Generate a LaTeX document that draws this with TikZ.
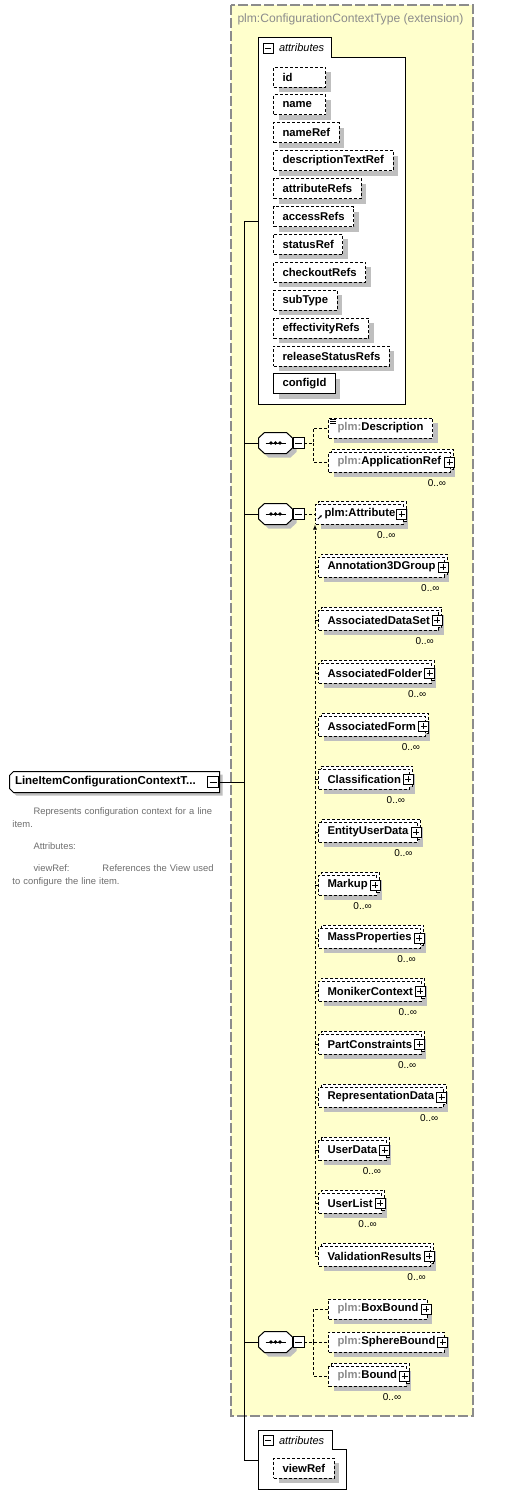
\documentclass[tikz,border=0pt]{standalone}
\usepackage{fontspec}
\setmainfont{Liberation Sans}
\usetikzlibrary{calc,positioning,arrows.meta,shadows}

\definecolor{extfill}{RGB}{255,255,204}
\definecolor{extline}{RGB}{140,140,140}
\definecolor{nsgray}{RGB}{140,140,140}
\definecolor{docgray}{RGB}{110,110,110}

\newcommand{\ns}{\textcolor{nsgray}{plm:}}
% octagon of a sequence compositor drawn round the node #1
\newcommand{\seqshape}[1]{%
\draw[fill=white,general shadow={fill=black!25,draw=none,shadow xshift=4pt,shadow yshift=-4pt}]
($(#1.west)+(0,-5)$) -- ($(#1.north west)+(6,0)$) -- ($(#1.north east)+(-6,0)$) -- ($(#1.east)+(0,-5)$)
-- ($(#1.east)+(0,5)$) -- ($(#1.south east)+(-6,0)$) -- ($(#1.south west)+(6,0)$) -- ($(#1.west)+(0,5)$) -- cycle;
\draw ($(#1.west)+(7,0)$) -- ($(#1.east)+(-7,0)$);
\fill ($(#1.center)+(-4.5,0)$) circle (1.9) (#1.center) circle (1.9) ($(#1.center)+(4.5,0)$) circle (1.9);}

\begin{document}
\begin{tikzpicture}[x=1pt,y=-1pt,line width=1pt]
% Element boxes, dashed when optional.
\tikzstyle{elem}=[draw,dash pattern=on 3pt off 2pt,fill=white,anchor=west,minimum height=20pt,
inner xsep=9pt,inner ysep=0pt,font=\fontsize{11.3}{13}\selectfont\bfseries,
general shadow={fill=black!25,draw=none,shadow xshift=5pt,shadow yshift=-5pt}]
\tikzstyle{multi}=[copy shadow={draw,dash pattern=on 3pt off 2pt,fill=white,shadow xshift=3pt,shadow yshift=3pt}]
\tikzstyle{link}=[dash pattern=on 3pt off 2pt]
\tikzstyle{mult}=[font=\fontsize{10}{12}\selectfont,inner sep=0pt,anchor=north east]
\tikzstyle{plusbox}=[draw,solid,fill=white,minimum size=10pt,inner sep=0pt,line width=0.9pt,
path picture={\draw ($(path picture bounding box.west)+(2,0)$) -- ($(path picture bounding box.east)+(-2,0)$)
($(path picture bounding box.north)+(0,2)$) -- ($(path picture bounding box.south)+(0,-2)$);}]
\tikzstyle{minusbox}=[draw,solid,fill=white,minimum size=11pt,inner sep=0pt,line width=0.9pt,
path picture={\draw ($(path picture bounding box.west)+(2,0)$) -- ($(path picture bounding box.east)+(-2,0)$);}]
\tikzstyle{compositor}=[minimum width=33pt,minimum height=20pt,inner sep=0pt]
\tikzstyle{tab}=[anchor=north west,minimum height=20pt,text width=73pt,inner xsep=0pt,align=left,
font=\fontsize{11}{13}\selectfont\itshape]

\fill[white] (0,0) rectangle (513,1507);
\useasboundingbox (0,0) rectangle (513,1507);

% This draws the extension frame.
\draw[extline,fill=extfill,line width=1.3pt,dash pattern=on 10pt off 3pt] (231,5) rectangle (473,1416);
\node[anchor=west,inner sep=0pt,text=nsgray,font=\fontsize{12.1}{14}\selectfont] (extTitle) at (237,19)
{plm:ConfigurationContextType (extension)};

% This draws the root element and its documentation.
\node[minimum width=209pt,minimum height=20pt,inner xsep=5pt,text width=199pt,align=left,
font=\fontsize{11.3}{13}\selectfont\bfseries] (root) at (114.5,782) {};
\draw[fill=white,general shadow={fill=black!25,draw=none,shadow xshift=3pt,shadow yshift=-3pt}]
($(root.north west)+(4,0)$) -- (root.north east) -- (root.south east) -- ($(root.south west)+(4,0)$)
-- ($(root.south west)+(0,-4)$) -- ($(root.north west)+(0,4)$) -- cycle;
\node[anchor=west,inner sep=0pt,font=\fontsize{11.5}{13}\selectfont\bfseries] (rootText) at ($(root.west)+(5,0)$)
{LineItemConfigurationContextT...};
\node[minusbox] (rootm) at ($(root.east)+(-6.5,0)$) {};
\node[anchor=north west,inner sep=0pt,text width=205pt,align=left,text=docgray,
font=\fontsize{9.4}{13}\selectfont] (rootDoc) at (12,807)
{\hspace*{21pt}Represents configuration context for a line\\item.\\[9pt]
\hspace*{21pt}Attributes:\\[9pt]
\hspace*{21pt}\makebox[69pt][l]{viewRef:}References the View used\\to configure the line item.};

% This draws the inherited attributes.
\node[minimum width=146pt,minimum height=366pt,inner sep=0pt] (attrs) at (332,221) {};
\draw[fill=white] (attrs.south west) -- (attrs.north west) -- ++(73,0) -- ++(0,20)
-- ($(attrs.north east)+(0,20)$) -- (attrs.south east) -- cycle;
\node[tab] (attrsTab) at (attrs.north west) {\hspace*{20pt}attributes};
\node[minusbox,minimum size=10pt] (attrsTabm) at ($(attrsTab.west)+(9.5,0)$) {};
\node[elem,text width=34pt] (id) at (273,77) {id};
\node[elem,text width=34pt,below=6.9pt of id.south west,anchor=north west] (name) {name};
\node[elem,below=6.9pt of name.south west,anchor=north west] (nameRef) {nameRef};
\node[elem,below=6.9pt of nameRef.south west,anchor=north west] (descRef) {descriptionTextRef};
\node[elem,below=6.9pt of descRef.south west,anchor=north west] (attrRefs) {attributeRefs};
\node[elem,below=6.9pt of attrRefs.south west,anchor=north west] (accessRefs) {accessRefs};
\node[elem,below=6.9pt of accessRefs.south west,anchor=north west] (statusRef) {statusRef};
\node[elem,below=6.9pt of statusRef.south west,anchor=north west] (checkoutRefs) {checkoutRefs};
\node[elem,below=6.9pt of checkoutRefs.south west,anchor=north west] (subType) {subType};
\node[elem,below=6.9pt of subType.south west,anchor=north west] (effRefs) {effectivityRefs};
\node[elem,below=6.9pt of effRefs.south west,anchor=north west] (relRefs) {releaseStatusRefs};
\node[elem,solid,below=6.9pt of relRefs.south west,anchor=north west] (configId) {configId};

% This draws the first sequence.
\node[compositor] (seq1) at (275.5,443) {};
\seqshape{seq1}
\node[minusbox,anchor=west] (seq1m) at (seq1.east) {};
\node[elem] (desc) at (328,428) {\ns Description};
\draw[line width=0.7pt] ($(desc.north west)+(2,2)$) -- ++(6,0) ($(desc.north west)+(2,4)$) -- ++(6,0)
($(desc.north west)+(2,6)$) -- ++(6,0);
\node[elem,multi] (appRef) at (328,462) {\ns ApplicationRef\hspace{6pt}};
\node[plusbox] (appRefp) at ($(appRef.east)+(-1,0)$) {};
\node[mult] (appRefm) at ($(appRef.south east)+(-4,7)$) {0..∞};
\coordinate (br1) at ($(seq1m.east)+(9,0)$);
\draw[link] (seq1m.east) -- (br1) |- (desc.west);
\draw[link] (br1) |- (appRef.west);

% This draws the second sequence and the substitution group.
\node[compositor] (seq2) at (275.5,514) {};
\seqshape{seq2}
\node[minusbox,anchor=west] (seq2m) at (seq2.east) {};
\node[elem,multi,inner xsep=8pt] (attr) at (315,514) {\hspace{1pt}plm:Attribute\hspace{6pt}};
\node[plusbox] (attrp) at ($(attr.east)+(-2,0)$) {};
\node[mult] (attrm) at ($(attr.south east)+(-8,7)$) {0..∞};
\draw[line width=0.8pt,-{Latex[length=2.5pt,width=2.5pt]}] ($(attr.west)+(3,5)$) -- ++(4,-4);
\draw[link] (seq2m.east) -- (attr.west);

\node[elem,multi] (annot) at (318,567) {Annotation3DGroup\hspace{6pt}};
\node[plusbox] at ($(annot.east)+(-2,0)$) {};
\node[mult] at ($(annot.south east)+(-5,7)$) {0..∞};
\node[elem,multi] (dataSet) at (318,620) {AssociatedDataSet\hspace{6pt}};
\node[plusbox] at ($(dataSet.east)+(-2,0)$) {};
\node[mult] at ($(dataSet.south east)+(-5,7)$) {0..∞};
\node[elem,multi] (folder) at (318,673) {AssociatedFolder\hspace{6pt}};
\node[plusbox] at ($(folder.east)+(-2,0)$) {};
\node[mult] at ($(folder.south east)+(-5,7)$) {0..∞};
\node[elem,multi] (form) at (318,726) {AssociatedForm\hspace{6pt}};
\node[plusbox] at ($(form.east)+(-2,0)$) {};
\node[mult] at ($(form.south east)+(-5,7)$) {0..∞};
\node[elem,multi] (classif) at (318,779) {Classification\hspace{6pt}};
\node[plusbox] at ($(classif.east)+(-2,0)$) {};
\node[mult] at ($(classif.south east)+(-5,7)$) {0..∞};
\node[elem,multi] (userEnt) at (318,832) {EntityUserData\hspace{6pt}};
\node[plusbox] at ($(userEnt.east)+(-2,0)$) {};
\node[mult] at ($(userEnt.south east)+(-5,7)$) {0..∞};
\node[elem,multi] (markup) at (318,885) {Markup\hspace{6pt}};
\node[plusbox] at ($(markup.east)+(-2,0)$) {};
\node[mult] at ($(markup.south east)+(-5,7)$) {0..∞};
\node[elem,multi] (massProp) at (318,938) {MassProperties\hspace{6pt}};
\node[plusbox] at ($(massProp.east)+(-2,0)$) {};
\node[mult] at ($(massProp.south east)+(-5,7)$) {0..∞};
\node[elem,multi] (moniker) at (318,991) {MonikerContext\hspace{6pt}};
\node[plusbox] at ($(moniker.east)+(-2,0)$) {};
\node[mult] at ($(moniker.south east)+(-5,7)$) {0..∞};
\node[elem,multi] (partCons) at (318,1044) {PartConstraints\hspace{6pt}};
\node[plusbox] at ($(partCons.east)+(-2,0)$) {};
\node[mult] at ($(partCons.south east)+(-5,7)$) {0..∞};
\node[elem,multi] (reprData) at (318,1097) {RepresentationData\hspace{6pt}};
\node[plusbox] at ($(reprData.east)+(-2,0)$) {};
\node[mult] at ($(reprData.south east)+(-5,7)$) {0..∞};
\node[elem,multi] (userData) at (318,1150) {UserData\hspace{6pt}};
\node[plusbox] at ($(userData.east)+(-2,0)$) {};
\node[mult] at ($(userData.south east)+(-5,7)$) {0..∞};
\node[elem,multi] (userList) at (318,1203) {UserList\hspace{6pt}};
\node[plusbox] at ($(userList.east)+(-2,0)$) {};
\node[mult] at ($(userList.south east)+(-5,7)$) {0..∞};
\node[elem,multi] (validRes) at (318,1256) {ValidationResults\hspace{6pt}};
\node[plusbox] at ($(validRes.east)+(-2,0)$) {};
\node[mult] at ($(validRes.south east)+(-5,7)$) {0..∞};

% This draws the substitution line back up to plm:Attribute.
\draw[link,-{Latex[length=5pt,width=4pt]}] (validRes.west) -| (attr.south west);
\draw[link] (annot.west) -- (annot.west -| attr.west);
\draw[link] (dataSet.west) -- (dataSet.west -| attr.west);
\draw[link] (folder.west) -- (folder.west -| attr.west);
\draw[link] (form.west) -- (form.west -| attr.west);
\draw[link] (classif.west) -- (classif.west -| attr.west);
\draw[link] (userEnt.west) -- (userEnt.west -| attr.west);
\draw[link] (markup.west) -- (markup.west -| attr.west);
\draw[link] (massProp.west) -- (massProp.west -| attr.west);
\draw[link] (moniker.west) -- (moniker.west -| attr.west);
\draw[link] (partCons.west) -- (partCons.west -| attr.west);
\draw[link] (reprData.west) -- (reprData.west -| attr.west);
\draw[link] (userData.west) -- (userData.west -| attr.west);
\draw[link] (userList.west) -- (userList.west -| attr.west);

% This draws the third sequence.
\node[compositor] (seq3) at (275.5,1342) {};
\seqshape{seq3}
\node[minusbox,anchor=west] (seq3m) at (seq3.east) {};
\node[elem] (boxBound) at (328,1309) {\ns BoxBound\hspace{6pt}};
\node[plusbox] at ($(boxBound.east)+(-2,0)$) {};
\node[elem] (sphereBound) at (328,1342) {\ns SphereBound\hspace{6pt}};
\node[plusbox] at ($(sphereBound.east)+(-2,0)$) {};
\node[elem,multi] (bound) at (328,1376) {\ns Bound\hspace{6pt}};
\node[plusbox] at ($(bound.east)+(-2,0)$) {};
\node[mult] at ($(bound.south east)+(-5,7)$) {0..∞};
\coordinate (br3) at ($(seq3m.east)+(9,0)$);
\draw[link] (seq3m.east) -- (sphereBound.west);
\draw[link] (br3) |- (boxBound.west);
\draw[link] (br3) |- (bound.west);

% This draws the own attributes.
\node[minimum width=87pt,minimum height=58pt,inner sep=0pt] (battrs) at (302.5,1460) {};
\draw[fill=white] (battrs.south west) -- (battrs.north west) -- ++(74,0) -- ++(0,19)
-- ($(battrs.north east)+(0,19)$) -- (battrs.south east) -- cycle;
\node[tab,minimum height=19pt] (battrsTab) at (battrs.north west) {\hspace*{20pt}attributes};
\node[minusbox,minimum size=10pt] (battrsTabm) at ($(battrsTab.west)+(9.5,0)$) {};
\node[elem] (viewRef) at (273,1468) {viewRef};

% This draws the trunk.
\coordinate (trunk) at (244,782);
\draw (rootm.east) -- (trunk);
\draw (trunk) |- (attrs.west);
\draw (trunk) |- (seq1.west);
\draw (trunk) |- (seq2.west);
\draw (trunk) |- (seq3.west);
\draw (trunk) |- (battrs.west);
\end{tikzpicture}
\end{document}
